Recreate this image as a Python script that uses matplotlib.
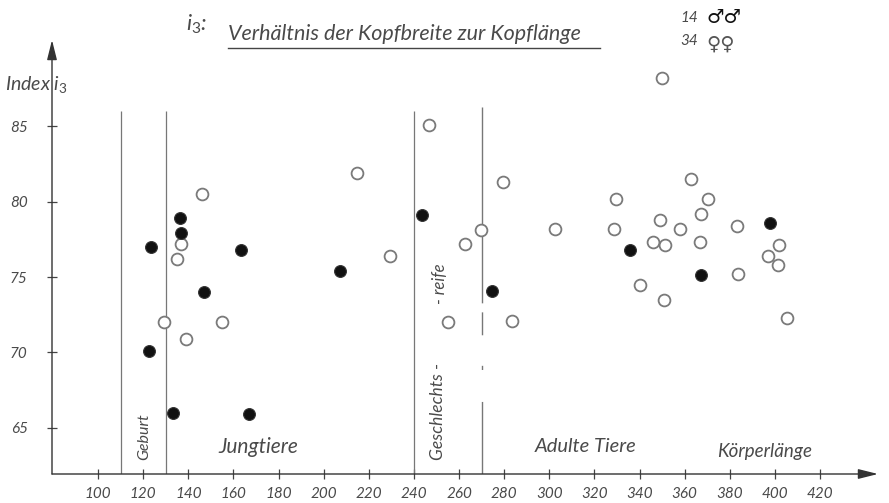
import matplotlib
matplotlib.use("Agg")
import matplotlib.pyplot as plt
from matplotlib.lines import Line2D

plt.rcParams['font.family'] = ['Lato', 'DejaVu Sans']
plt.rcParams['mathtext.fontset'] = 'custom'
plt.rcParams['mathtext.it'] = 'Lato:italic'
plt.rcParams['mathtext.rm'] = 'Lato'

# Körperlänge (body length) and index i3 (head width / head length)
male_length = [123.4, 136.3, 136.7, 163.5, 122.7, 146.9, 133.4, 166.9,
               207.4, 243.8, 274.8, 335.8, 367.2, 397.9]
male_index = [77.0, 78.9, 77.9, 76.8, 70.1, 74.0, 66.0, 65.9,
              75.4, 79.1, 74.1, 76.8, 75.1, 78.6]

female_length = [146.1, 136.7, 134.9, 129.4, 139.1, 155.1, 214.7, 229.4,
                 246.9, 255.1, 262.7, 269.8, 279.7, 283.7, 350.1, 302.6,
                 329.5, 328.7, 348.9, 362.6, 370.5, 367.3, 358.0, 345.8,
                 351.2, 366.8, 383.4, 401.8, 396.9, 401.2, 383.8, 405.3,
                 340.2, 350.8]
female_index = [80.5, 77.2, 76.2, 72.0, 70.9, 72.0, 81.9, 76.4,
                85.1, 72.0, 77.2, 78.1, 81.3, 72.1, 88.2, 78.2,
                80.2, 78.2, 78.8, 81.5, 80.2, 79.2, 78.2, 77.3,
                77.1, 77.3, 78.4, 77.1, 76.4, 75.8, 75.2, 72.3,
                74.5, 73.5]

x_ticks = list(range(100, 421, 20))
y_ticks = [65, 70, 75, 80, 85]

# stage boundaries: Geburt, Jungtiere, Geschlechtsreife
solid_bounds = [110, 130, 240]
dashed_bounds = [270]

fs = dict(style='italic', color='#4a4a4a')

W, H = 889, 503
fig = plt.figure(figsize=(W / 100, H / 100), dpi=100)
fig.patch.set_facecolor('white')
ax = fig.add_axes([52 / W, 1 - 474 / H, 826 / W, 434 / H])
ax.set_xlim(79.6, 445.7)
ax.set_ylim(61.95, 90.7)
ax.set_facecolor('white')
for s in ax.spines.values():
    s.set_visible(False)

# axes drawn as arrows
ax.annotate('', xy=(1, 0), xytext=(0, 0), xycoords='axes fraction',
            arrowprops=dict(arrowstyle='-|>,head_length=1.2,head_width=0.3',
                            color='#333333', lw=1.0, shrinkA=0, shrinkB=0))
ax.annotate('', xy=(0, 1), xytext=(0, 0), xycoords='axes fraction',
            arrowprops=dict(arrowstyle='-|>,head_length=1.2,head_width=0.3',
                            color='#333333', lw=1.0, shrinkA=0, shrinkB=0))

ax.set_xticks(x_ticks)
ax.set_xticklabels([str(v) for v in x_ticks])
ax.set_yticks(y_ticks)
ax.set_yticklabels([str(v) for v in y_ticks])
ax.tick_params(axis='both', direction='inout', length=7, width=0.9,
               color='#444444', labelsize=11, labelcolor='#4a4a4a')
ax.tick_params(axis='x', pad=6)
ax.tick_params(axis='y', pad=14)
for lab in ax.get_xticklabels() + ax.get_yticklabels():
    lab.set_style('italic')

# stage boundaries
ax.vlines(solid_bounds, 61.95, 86.0, color='#777777', lw=0.9)
for xb in dashed_bounds:
    ax.plot([xb, xb], [86.25, 61.95], color='#777777', lw=1.0,
            linestyle=(0, (141, 6.5, 16.5, 22, 3, 23, 60, 5)))

# data points
ax.plot(female_length, female_index, 'o', ms=8.5, mfc='white',
        mec='#7a7a7a', mew=1.3, ls='none', zorder=3)
ax.plot(male_length, male_index, 'o', ms=8.5, mfc='#111111',
        mec='#333333', mew=0.8, ls='none', zorder=4)

# stage labels
ax.text(120.5, 62.9, 'Geburt', rotation=90, ha='center', va='bottom',
        fontsize=11.5, **fs)
ax.text(153.2, 63.1, 'Jungtiere', ha='left', va='bottom', fontsize=15, **fs)
ax.text(250.5, 62.9, 'Geschlechts -', rotation=90, ha='center',
        va='bottom', fontsize=12.5, **fs)
ax.text(251.5, 73.2, '- reife', rotation=90, ha='center', va='bottom',
        fontsize=12, **fs)
ax.text(293.5, 63.2, 'Adulte Tiere', ha='left', va='bottom', fontsize=14.5, **fs)
ax.text(374.4, 62.9, 'Körperlänge', ha='left', va='bottom', fontsize=13.5, **fs)

# heading and y-axis label
fig.text(186 / W, 1 - 31 / H, r'$i_3$:', fontsize=16, ha='left',
         va='baseline', **fs)
fig.text(228 / W, 1 - 40 / H, 'Verhältnis der Kopfbreite zur Kopflänge',
         fontsize=15.5, ha='left', va='baseline', **fs)
fig.add_artist(Line2D([228 / W, 600 / W], [1 - 48 / H, 1 - 48 / H],
                      color='#444444', lw=1.0))
fig.text(5 / W, 1 - 90 / H, r'Index $i_3$', fontsize=14, ha='left',
         va='baseline', **fs)

# counts of males and females
fig.text(680 / W, 1 - 22 / H, '14', fontsize=11, ha='left', va='baseline', **fs)
fig.text(680 / W, 1 - 45 / H, '34', fontsize=11, ha='left', va='baseline', **fs)
fig.text(706 / W, 1 - 23 / H, '♂♂', fontsize=14, ha='left', va='baseline',
         color='#111111', family='DejaVu Sans', weight='bold')
fig.text(706 / W, 1 - 50 / H, '♀♀', fontsize=14, ha='left', va='baseline',
         color='#555555', family='DejaVu Sans')

fig.savefig('out.png', dpi=100, facecolor='white')
